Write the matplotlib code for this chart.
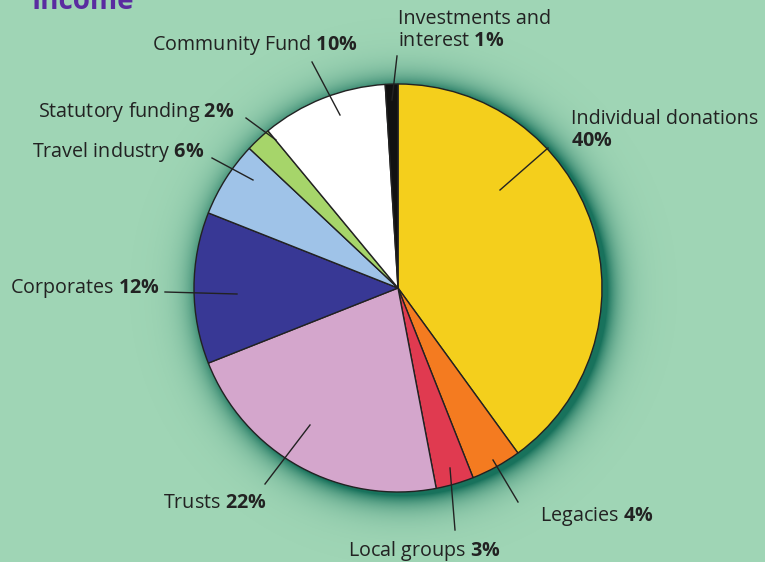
import numpy as np
import matplotlib
matplotlib.use('Agg')
import matplotlib.pyplot as plt

plt.rcParams['font.family'] = ['Open Sans', 'DejaVu Sans']
plt.rcParams['mathtext.fontset'] = 'custom'
plt.rcParams['mathtext.rm'] = 'Open Sans'
plt.rcParams['mathtext.bf'] = 'Open Sans:bold'

# income shares, clockwise from 12 o'clock
labels = ['Individual donations', 'Legacies', 'Local groups', 'Trusts', 'Corporates',
          'Travel industry', 'Statutory funding', 'Community Fund', 'Investments and\ninterest']
values = [40, 4, 3, 22, 12, 6, 2, 10, 1]
colors = ['#f4cf1c', '#f47b20', '#e03a50', '#d4a6cc', '#383895',
          '#9fc3e8', '#a6d56a', '#ffffff', '#111111']

W, H = 765, 562
bg = '#9fd5b5'

fig = plt.figure(figsize=(W / 100, H / 100), dpi=100, facecolor=bg)
ax = fig.add_axes([0, 0, 1, 1])

cx, cy, r = 398, H - 288, 204

# dark teal glow behind the pie
yy, xx = np.mgrid[0:H, 0:W]
d = np.hypot(xx - (cx + 5), (H - 1 - yy) - (cy - 4)) - r
a = np.clip(np.exp(-np.clip(d, 0, None) / 13.0), 0, 1) * 0.85
a[d < 0] = 0.85
glow = np.zeros((H, W, 4))
glow[..., 1] = 0.38
glow[..., 2] = 0.30
glow[..., 3] = a
ax.imshow(glow, extent=(0, W, 0, H), zorder=1, interpolation='bilinear')

ax.pie(values, colors=colors, startangle=90, counterclock=False, center=(cx, cy), radius=r,
       wedgeprops=dict(edgecolor='#222222', linewidth=1.0, zorder=2), frame=True)
ax.set_xlim(0, W)
ax.set_ylim(0, H)
ax.set_aspect('equal')
ax.axis('off')

# label text (pixel coords from top), line start, line end
annots = [
    (r'Individual donations' + '\n' + r'$\bf{40\%}$', 571, 130, (548, 148), (500, 190)),
    (r'Legacies $\bf{4\%}$', 540, 516, (518, 502), (493, 460)),
    (r'Local groups $\bf{3\%}$', 348, 551, (455, 530), (450, 468)),
    (r'Trusts $\bf{22\%}$', 163, 503, (265, 484), (310, 425)),
    (r'Corporates $\bf{12\%}$', 10, 289, (165, 292), (237, 294)),
    (r'Travel industry $\bf{6\%}$', 32, 152, (212, 158), (253, 180)),
    (r'Statutory funding $\bf{2\%}$', 38, 112, (246, 118), (276, 140)),
    (r'Community Fund $\bf{10\%}$', 152, 45, (312, 62), (340, 115)),
    (r'Investments and' + '\n' + r'interest $\bf{1\%}$', 398, 30, (397, 56), (392, 100)),
]
for txt, tx, ty, p0, p1 in annots:
    ax.text(tx, H - ty, txt, ha='left', va='center', fontsize=14.2, color='#222222',
            linespacing=1.2, zorder=4)
    ax.plot([p0[0], p1[0]], [H - p0[1], H - p1[1]], color='#222222', lw=1.0, zorder=4)

ax.text(32, H - 9, 'Income', fontsize=20, fontweight='bold', color='#5a2ca0',
        ha='left', va='baseline', zorder=4)

fig.savefig('out.png', dpi=100, facecolor=bg)
